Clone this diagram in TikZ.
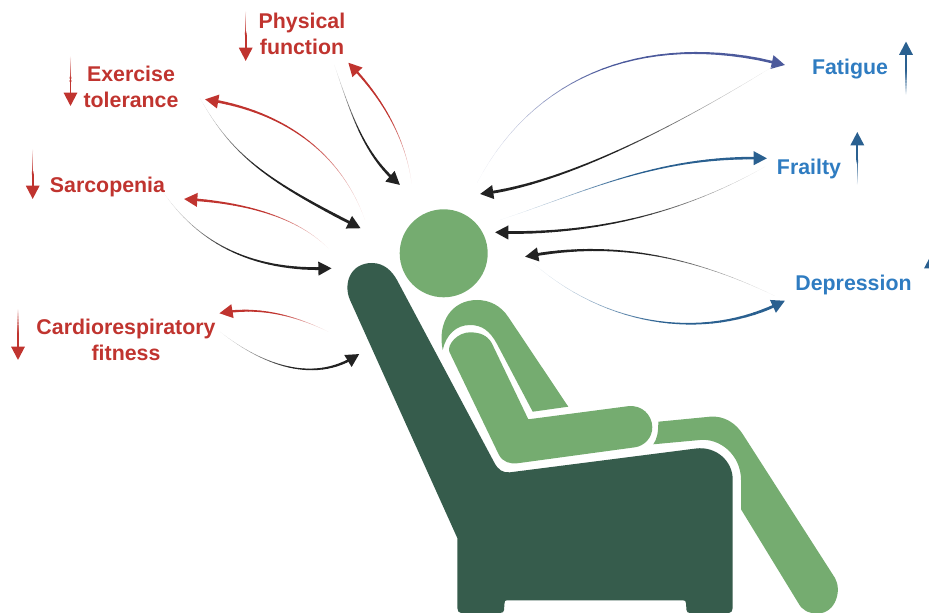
\documentclass[tikz,border=0pt]{standalone}
\usepackage{fontspec}
\setmainfont{Liberation Sans}
\usetikzlibrary{calc,arrows.meta}
\definecolor{lightgreen}{HTML}{75AC70}
\definecolor{darkgreen}{HTML}{365C4C}
\definecolor{labelred}{HTML}{C0342F}
\definecolor{labelblue}{HTML}{2F7CC1}
\definecolor{arrowblue}{HTML}{2A6090}
\definecolor{arrowpurple}{HTML}{4C5A9C}
\definecolor{arrowblack}{HTML}{222222}
\tikzset{
  lab/.style={font=\fontsize{16}{19.5}\selectfont\bfseries,align=center,inner sep=0pt},
  redlab/.style={lab,text=labelred},
  bluelab/.style={lab,text=labelblue},
  bodypart/.style={fill=lightgreen,draw=none},
  chairpart/.style={fill=darkgreen,draw=none},
}
% [#1 start width], #2 name, #3-#6 bezier points, #7 colour, #8 end width
\newcommand\taper[8][0.12]{%
  \coordinate (#2a) at #3;
  \coordinate (#2b) at #4;
  \coordinate (#2c) at #5;
  \coordinate (#2d) at #6;
  \coordinate (prev) at (#2a);
  \foreach \i in {1,...,28}{%
    \pgfmathsetmacro\myt{\i/30}%
    \pgfmathsetmacro\mypc{min(100,\i*100/16)}%
    \pgfmathsetmacro\mylw{#1+(#8-#1)*(\i/28)^1.5}%
    \coordinate (q1) at ($(#2a)!\myt!(#2b)$);
    \coordinate (q2) at ($(#2b)!\myt!(#2c)$);
    \coordinate (q3) at ($(#2c)!\myt!(#2d)$);
    \coordinate (r1) at ($(q1)!\myt!(q2)$);
    \coordinate (r2) at ($(q2)!\myt!(q3)$);
    \coordinate (cur) at ($(r1)!\myt!(r2)$);
    \draw[line width=\mylw pt,color=#7!\mypc!white,line cap=round] (prev) -- (cur);
    \coordinate (prev) at (cur);
  }%
  \draw[line width=#8pt,color=#7,-{Triangle[length=10pt,width=10pt]}] (prev) -- (#2d);
}
\begin{document}
\begin{tikzpicture}[x=0.75pt,y=-0.75pt]
\path[use as bounding box] (0,0) rectangle (929,613);
\begin{scope}
\clip (0,0) rectangle (929,613);
% chair
\path[chairpart] (350,300)
  .. controls (343,284) and (350,263) .. (372,263)
  .. controls (384,263) and (392,271) .. (397,280)
  -- (494,462)
  .. controls (498,470) and (503,473) .. (510,472.3)
  -- (696,448.5)
  .. controls (716,446) and (733,461) .. (732.7,480)
  -- (732.7,608) .. controls (732.7,611) and (731,613) .. (729,613)
  -- (690,613) .. controls (688,613) and (686.5,612) .. (686.5,610)
  -- (686,603.5) .. controls (686,601) and (685,600.3) .. (683,600.3)
  -- (507,600.3) .. controls (505,600.3) and (504.5,601) .. (504.5,603.5)
  -- (504,610) .. controls (504,612) and (502.5,613) .. (500,613)
  -- (461,613) .. controls (459,613) and (457.3,611) .. (457.3,608)
  -- (457.3,538) -- cycle;
% torso
\path[bodypart] (442.7,350)
  .. controls (437,322) and (452,300) .. (477,300)
  .. controls (490,300) and (501,306) .. (508.3,317)
  -- (568.3,406.7) -- (532.7,411.7) -- (497,344)
  .. controls (490,331) and (482,325) .. (470,325)
  .. controls (456,325) and (446,335) .. cycle;
% arm
\path[bodypart] (449.3,351.7)
  .. controls (447,344) and (458,332.3) .. (470,332.3)
  .. controls (480,332.5) and (487,335) .. (491.7,343)
  -- (528.3,419.3) -- (628,406.2)
  .. controls (642,404.5) and (652,415) .. (652.3,427)
  .. controls (652.5,438) and (644,446) .. (635,447.3)
  -- (518,463.2)
  .. controls (510,464.3) and (503,462) .. (499,455)
  -- cycle;
% leg
\path[bodypart] (658.3,421.7) -- (710,416.7)
  .. controls (724,415.5) and (736,423) .. (743.3,435)
  -- (835,578)
  .. controls (842,590) and (836,613) .. (818,613.5)
  .. controls (808,613.5) and (802,610) .. (798.3,603)
  -- (741,509.3) -- (741,480)
  .. controls (741,455) and (720,438) .. (700,440)
  -- (653.3,444.3)
  .. controls (657,439) and (658.3,433) .. cycle;
% head
\node[bodypart,circle,minimum size=66pt,inner sep=0pt] (head) at (443.7,253.3) {};
% labels
\node[redlab] (physical) at (302,34) {Physical\\function};
\node[redlab] (exercise) at (131,87) {Exercise\\tolerance};
\node[redlab] (sarcopenia) at (107.5,187) {Sarcopenia};
\node[redlab] (cardio) at (126,340) {Cardiorespiratory\\fitness};
\node[bluelab] (fatigue) at (850,69) {Fatigue};
\node[bluelab] (frailty) at (809,169) {Frailty};
\node[bluelab] (depression) at (853.5,285) {Depression};
% indicator arrows
\taper[1]{ia}{(245.7,12)}{(245.7,25)}{(245.7,40)}{(245.7,61)}{labelred}{1.5}
\taper[1]{ib}{(70.5,57)}{(70.5,70)}{(70.5,85)}{(70.5,106)}{labelred}{1.5}
\taper[1]{ic}{(32.7,150)}{(32.7,165)}{(32.7,180)}{(32.7,199)}{labelred}{1.5}
\taper[1]{id}{(18,310)}{(18,325)}{(18,340)}{(18,360)}{labelred}{1.5}
\taper[1]{ie}{(906,94)}{(906,80)}{(906,65)}{(906,41.5)}{arrowblue}{1.5}
\taper[1]{if}{(857.3,184)}{(857.3,170)}{(857.3,155)}{(857.3,132)}{arrowblue}{1.5}
\taper[1]{ig}{(931,304)}{(931,290)}{(931,275)}{(931,255)}{arrowblue}{1.5}
% curved arrows, right
\taper{ca}{(477,183)}{(535,72)}{(650,30)}{(785,65)}{arrowpurple}{1.9}
\taper{cb}{(772,67)}{(670,130)}{(560,185)}{(480,194)}{arrowblack}{2.1}
\taper{cc}{(500,220)}{(590,190)}{(660,155)}{(767,158.3)}{arrowblue}{1.9}
\taper{cd}{(765,166.7)}{(680,215)}{(590,235)}{(495,232.3)}{arrowblack}{2.1}
\taper{ce}{(775,296)}{(690,255)}{(610,240)}{(525,256.7)}{arrowblack}{2.1}
\taper{cf}{(533.3,263.3)}{(610,330)}{(710,340)}{(785,300.7)}{arrowblue}{2.1}
% curved arrows, left
\taper{da}{(411.7,183.3)}{(405,135)}{(380,95)}{(348.3,62.7)}{labelred}{1.7}
\taper{db}{(334.3,65)}{(350,110)}{(363,155)}{(400,185)}{arrowblack}{2.1}
\taper{dc}{(365,220)}{(340,150)}{(280,110)}{(205,99.3)}{labelred}{1.9}
\taper{dd}{(200,98.3)}{(232,155)}{(265,180)}{(360.7,228.3)}{arrowblack}{2.1}
\taper{de}{(328.3,248.3)}{(295,215)}{(240,202)}{(184,199)}{labelred}{1.9}
\taper{df}{(164,193.3)}{(200,245)}{(255,272)}{(331.7,268.3)}{arrowblack}{2.1}
\taper{dg}{(328.3,331.7)}{(300,318)}{(262,305)}{(219.3,313.3)}{labelred}{1.8}
\taper{dh}{(220,331.7)}{(262,365)}{(315,385)}{(359.3,354)}{arrowblack}{1.9}
\end{scope}
\end{tikzpicture}
\end{document}
